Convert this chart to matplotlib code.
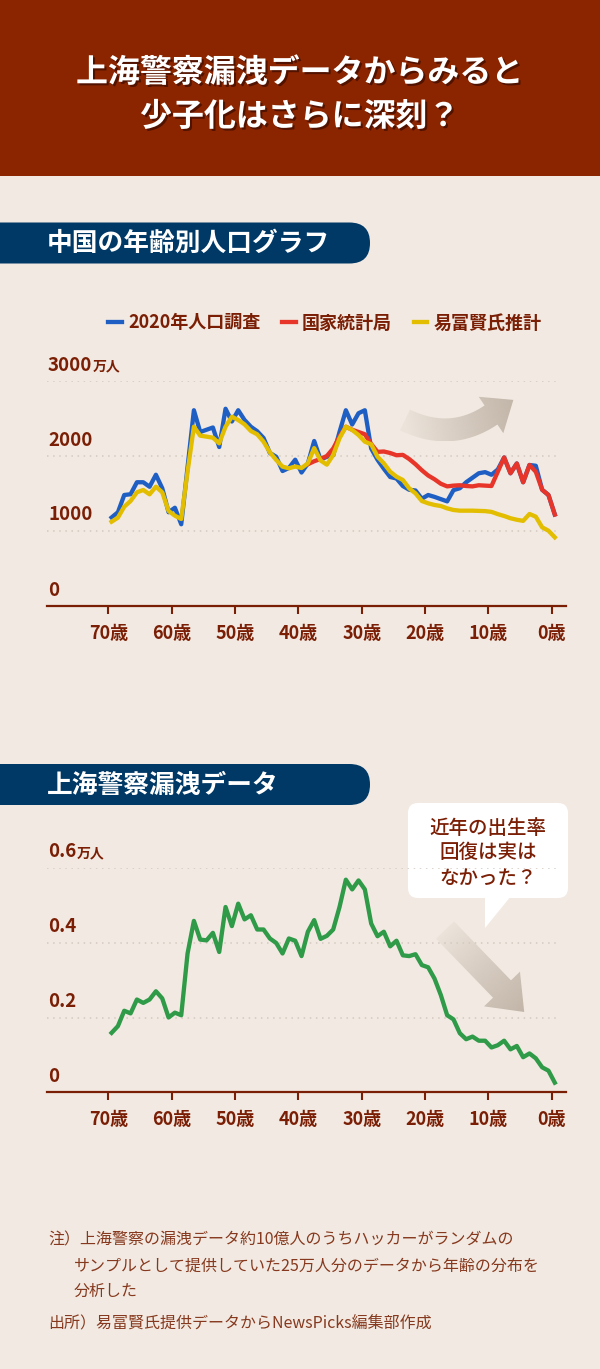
import numpy as np
import matplotlib
matplotlib.use("Agg")
import matplotlib.pyplot as plt
import matplotlib.patheffects as pe
from matplotlib.patches import FancyBboxPatch, Polygon, Rectangle
from matplotlib.colors import to_rgb

plt.rcParams['font.family'] = ['Noto Sans CJK JP', 'DejaVu Sans']

# --- data (ages 70 -> 0) ---
ages = np.arange(70, -1, -1)

census_2020 = [1180, 1250, 1480, 1490, 1650, 1650, 1590, 1750, 1570, 1250,
               1310, 1090, 1850, 2610, 2320, 2350, 2380, 2120, 2630, 2460,
               2610, 2480, 2390, 2330, 2240, 2040, 1990, 1800, 1840, 1950,
               1780, 1900, 2200, 1950, 1990, 2010, 2320, 2610, 2420, 2570,
               2610, 2100, 1950, 1830, 1720, 1700, 1600, 1550, 1540, 1430,
               1480, 1455, 1425, 1395, 1545, 1570, 1650, 1710, 1770, 1785,
               1750, 1820, 1980, 1770, 1900, 1650, 1880, 1870, 1550, 1480,
               1220]

# National Bureau of Statistics: only ages 39 -> 0
nbs_ages = np.arange(39, -1, -1)
nbs = [1890, 1930, 1960, 2000, 2100, 2260, 2390, 2350, 2320, 2290,
       2160, 2055, 2060, 2040, 2010, 2015, 1960, 1890, 1810, 1740,
       1690, 1630, 1595, 1605, 1610, 1600, 1595, 1610, 1605, 1600,
       1790, 1980, 1770, 1900, 1650, 1880, 1790, 1550, 1480, 1220]

yi_fuxian = [1124, 1178, 1324, 1400, 1516, 1547, 1489, 1591, 1516, 1267,
             1204, 1160, 1791, 2391, 2271, 2258, 2244, 2169, 2391, 2524,
             2480, 2422, 2333, 2289, 2191, 2049, 1947, 1858, 1836, 1860,
             1840, 1902, 2105, 1940, 1885, 2013, 2236, 2391, 2347, 2280,
             2191, 2156, 1991, 1902, 1791, 1724, 1680, 1569, 1502, 1400,
             1369, 1347, 1333, 1302, 1280, 1271, 1271, 1271, 1268, 1265,
             1255, 1225, 1200, 1170, 1150, 1135, 1227, 1191, 1049, 1004,
             916]

shanghai_leak = [0.159, 0.177, 0.218, 0.211, 0.248, 0.239, 0.248, 0.270, 0.251, 0.200,
                 0.213, 0.206, 0.371, 0.458, 0.408, 0.406, 0.426, 0.375, 0.495, 0.444,
                 0.504, 0.462, 0.473, 0.435, 0.435, 0.411, 0.399, 0.371, 0.411, 0.405,
                 0.364, 0.429, 0.460, 0.410, 0.418, 0.435, 0.495, 0.568, 0.542, 0.566,
                 0.542, 0.451, 0.417, 0.429, 0.390, 0.405, 0.366, 0.364, 0.369, 0.340,
                 0.334, 0.304, 0.260, 0.206, 0.195, 0.158, 0.142, 0.149, 0.138, 0.138,
                 0.120, 0.126, 0.138, 0.115, 0.124, 0.094, 0.104, 0.091, 0.067, 0.058,
                 0.026]

tick_ages = [70, 60, 50, 40, 30, 20, 10, 0]
top_yticks = [0, 1000, 2000, 3000]
top_ylabels = ['0', '1000', '2000', '3000']
bot_yticks = [0, 0.2, 0.4, 0.6]
bot_ylabels = ['0', '0.2', '0.4', '0.6']

# --- colours ---
BG = '#f2eae2'
HEADER = '#8b2500'
NAVY = '#003866'
TXT = '#7a1f05'
NOTE = '#86391e'
GRID = '#d3c9bf'
BLUE = '#1f5fc4'
RED = '#e8352a'
YELLOW = '#e2bd00'
GREEN = '#2f9a48'
ARROW = '#c2b5a8'

W, H = 600, 1369
fig = plt.figure(figsize=(6, 13.69), dpi=100)
fig.patch.set_facecolor(BG)

# full-figure pixel canvas for the decorations
bg = fig.add_axes([0, 0, 1, 1], zorder=0)
bg.set_xlim(0, W)
bg.set_ylim(H, 0)
bg.axis('off')


def px_axes(left, top, right, bottom):
    a = fig.add_axes([left / W, 1 - bottom / H, (right - left) / W, (bottom - top) / H],
                     zorder=2)
    a.set_facecolor('none')
    return a


def gradient_fill(pts, start, end):
    pts = np.asarray(pts)
    poly = Polygon(pts, closed=True, fc='none', ec='none')
    bg.add_patch(poly)
    x0, x1 = pts[:, 0].min(), pts[:, 0].max()
    y0, y1 = pts[:, 1].min(), pts[:, 1].max()
    X, Y = np.meshgrid(np.linspace(x0, x1, 200), np.linspace(y0, y1, 200))
    d = np.array(end, float) - np.array(start, float)
    t = ((X - start[0]) * d[0] + (Y - start[1]) * d[1]) / (d @ d)
    t = np.clip(t, 0, 1)
    rgba = np.zeros((200, 200, 4))
    rgba[..., :3] = to_rgb(ARROW)
    rgba[..., 3] = 0.12 + 0.88 * t ** 0.9
    im = bg.imshow(rgba, extent=(x0, x1, y1, y0), origin='upper',
                   aspect='auto', interpolation='bilinear', zorder=1)
    im.set_clip_path(poly)


def curved_arrow(p0, p1, p2, w, hw, hl):
    p0, p1, p2 = map(lambda p: np.array(p, float), (p0, p1, p2))
    t = np.linspace(0, 1, 40)[:, None]
    curve = (1 - t) ** 2 * p0 + 2 * (1 - t) * t * p1 + t ** 2 * p2
    der = 2 * (1 - t) * (p1 - p0) + 2 * t * (p2 - p1)
    der /= np.linalg.norm(der, axis=1)[:, None]
    nrm = np.column_stack([-der[:, 1], der[:, 0]])
    top = curve + w * nrm
    bot = curve - w * nrm
    u, n = der[-1], nrm[-1]
    head = [p2 + hw * n, p2 + hl * u, p2 - hw * n]
    return np.vstack([top, head, bot[::-1]])


# header band + title
bg.add_patch(Rectangle((0, 0), W, 176, fc=HEADER, ec='none'))
shadow = [pe.withSimplePatchShadow(offset=(1.5, -1.5), shadow_rgbFace='#3a0a00', alpha=0.7)]
bg.text(300, 73, '上海警察漏洩データからみると', ha='center', va='center',
        color='white', fontsize=23, fontweight='bold', path_effects=shadow)
bg.text(300, 117, '少子化はさらに深刻？', ha='center', va='center',
        color='white', fontsize=23, fontweight='bold', path_effects=shadow)

# section pills
for y_top, label in [(222.5, '中国の年齢別人口グラフ'), (764, '上海警察漏洩データ')]:
    bg.add_patch(FancyBboxPatch((-30, y_top), 400, 41,
                                boxstyle='round,pad=0,rounding_size=20.5',
                                fc=NAVY, ec='none'))
    bg.text(47, y_top + 21, label, ha='left', va='center', color='white',
            fontsize=18.5, fontweight='bold')

# decorative arrows
gradient_fill(curved_arrow((405, 420), (451, 442), (491, 415), 11.5, 22, 27),
              (405, 420), (515, 400))
gradient_fill(curved_arrow((445, 930), (474, 960), (502, 989), 12.5, 25, 32),
              (445, 930), (525, 1012))

# speech bubble
bg.add_patch(FancyBboxPatch((408, 803), 160, 95, boxstyle='round,pad=0,rounding_size=10',
                            fc='white', ec='none', zorder=2))
bg.add_patch(Polygon([(485, 896), (485, 928), (511, 896)], closed=True,
                     fc='white', ec='none', zorder=2))
for y, line in [(828, '近年の出生率'), (853, '回復は実は'), (878, 'なかった？')]:
    bg.text(488, y, line, ha='center', va='center', color=TXT, fontsize=14,
            fontweight='medium', zorder=3)

# notes
notes = [(48, 1240, '注）上海警察の漏洩データ約10億人のうちハッカーがランダムの'),
         (74, 1266, 'サンプルとして提供していた25万人分のデータから年齢の分布を'),
         (74, 1291, '分析した'),
         (48, 1324, '出所）易富賢氏提供データからNewsPicks編集部作成')]
for x, y, s in notes:
    bg.text(x, y, s, ha='left', va='center', color=NOTE, fontsize=11.5)

bg.set_xlim(0, W)
bg.set_ylim(H, 0)


def style_axes(ax, yticks, ylabels, unit_pos, ymax, grid_ticks):
    ax.set_xlim(80.2, -1.77)
    ax.set_ylim(0, ymax)
    for s in ['top', 'right', 'left']:
        ax.spines[s].set_visible(False)
    ax.spines['bottom'].set_color(TXT)
    ax.spines['bottom'].set_linewidth(1.6)
    # ticks sit at the start of each age bin
    ax.set_xticks(np.array(tick_ages) + 0.5, labels=[f'{a}歳' for a in tick_ages])
    ax.tick_params(axis='x', direction='out', length=6, width=1.5, color=TXT,
                   labelcolor=TXT, labelsize=13, pad=7)
    for lab in ax.get_xticklabels():
        lab.set_fontweight('bold')
    ax.set_yticks([])
    ax.hlines(grid_ticks, 80.2, -0.3, colors=GRID, linestyles=(0, (1, 3)),
              linewidth=1.1, zorder=0)
    for v, lab in zip(yticks, ylabels):
        t = ax.annotate(lab, xy=(0, v), xycoords=('axes fraction', 'data'),
                        xytext=(1, 16), textcoords='offset pixels', ha='left',
                        va='center', fontsize=13.5, fontweight='bold', color=TXT)
        if v == unit_pos:
            ax.annotate('万人', xy=(1, 0.42), xycoords=t, xytext=(0, 0),
                        textcoords='offset pixels', ha='left', va='center',
                        fontsize=10, fontweight='bold', color=TXT)


# --- top chart ---
ax1 = px_axes(47, 381, 566, 606)
l1, = ax1.plot(ages, census_2020, color=BLUE, lw=3.1, zorder=2, label='2020年人口調査')
l2, = ax1.plot(nbs_ages, nbs, color=RED, lw=3.1, zorder=3, label='国家統計局')
l3, = ax1.plot(ages, yi_fuxian, color=YELLOW, lw=3.1, zorder=4, label='易富賢氏推計')
style_axes(ax1, top_yticks, top_ylabels, 3000, 3000, [1000, 2000, 3000])
ax1.legend(handles=[l1, l2, l3], loc='center', bbox_to_anchor=(325 / W, 1 - 323 / H),
           bbox_transform=fig.transFigure, ncol=3, frameon=False, handlelength=0.75,
           handletextpad=0.35, columnspacing=1.2,
           prop={'size': 13, 'weight': 'bold'}, labelcolor=TXT)

# --- bottom chart ---
ax2 = px_axes(47, 867.7, 566, 1092.4)
ax2.plot(ages, shanghai_leak, color=GREEN, lw=3.1, zorder=2)
style_axes(ax2, bot_yticks, bot_ylabels, 0.6, 0.6, [0.2, 0.4, 0.6])

fig.savefig('out.png', dpi=100, facecolor=fig.get_facecolor())
